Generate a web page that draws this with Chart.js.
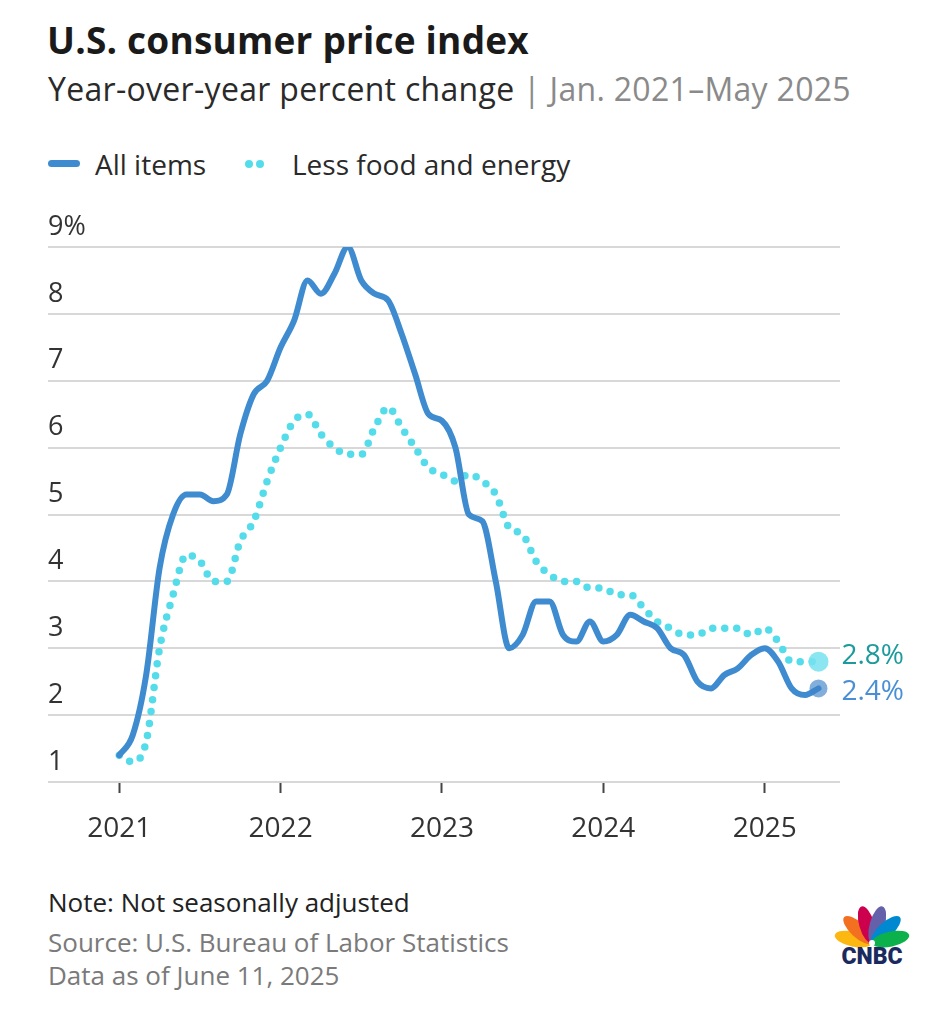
<!DOCTYPE html>
<html>
<head>
<meta charset="utf-8">
<script src="https://cdn.jsdelivr.net/npm/chart.js@4.4.1/dist/chart.umd.min.js"></script>
<style>
  html, body { margin: 0; padding: 0; background: #fff; }
  body { width: 927px; height: 1024px; position: relative; overflow: hidden; font-family: "Open Sans", Lato, sans-serif; }
  .title { position: absolute; left: 47px; top: 17px; font-size: 37px; line-height: 46px; font-weight: 700; color: #1a1a1a; letter-spacing: 0.2px; white-space: nowrap; }
  .subtitle { position: absolute; left: 48px; top: 69px; font-size: 32px; line-height: 40px; color: #2a2a2a; letter-spacing: 0.3px; white-space: nowrap; }
  .subtitle .light { color: #8a8a8a; }
  .leg { position: absolute; top: 146px; font-size: 28px; line-height: 36px; color: #2a2a2a; white-space: nowrap; }
  .swatch-line { position: absolute; left: 48px; top: 160px; width: 32px; height: 7px; border-radius: 4px; background: #3f8bd0; }
  .swatch-dot { position: absolute; top: 160px; width: 8px; height: 8px; border-radius: 50%; background: #55dcea; }
  #wrap { position: absolute; left: 0; top: 200px; width: 927px; height: 660px; }
  .foot { position: absolute; left: 48px; font-size: 26px; line-height: 32px; white-space: nowrap; }
  .note { top: 886px; color: #222; }
  .src { top: 926px; color: #7a7a7a; }
  .asof { top: 959px; color: #7a7a7a; }
  .logo { position: absolute; left: 831px; top: 896px; width: 82px; height: 72px; }
</style>
</head>
<body>
<div class="title">U.S. consumer price index</div>
<div class="subtitle">Year-over-year percent change <span class="light">| Jan. 2021–May 2025</span></div>
<div class="swatch-line"></div>
<div class="leg" style="left:95px">All items</div>
<div class="swatch-dot" style="left:245px"></div>
<div class="swatch-dot" style="left:256px"></div>
<div class="leg" style="left:292px">Less food and energy</div>
<div id="wrap"><canvas id="cpiChart"></canvas></div>
<div class="foot note">Note: Not seasonally adjusted</div>
<div class="foot src">Source: U.S. Bureau of Labor Statistics</div>
<div class="foot asof">Data as of June 11, 2025</div>
<svg class="logo" viewBox="0 0 82 72">
  <g transform="translate(41,47)">
    <ellipse cx="0" cy="-19" rx="7.5" ry="19" fill="#fcb711" transform="rotate(-78)"/>
    <ellipse cx="0" cy="-19" rx="7.5" ry="19" fill="#f37021" transform="rotate(-47)"/>
    <ellipse cx="0" cy="-19" rx="7.5" ry="19" fill="#cc004c" transform="rotate(-16)"/>
    <ellipse cx="0" cy="-19" rx="7.5" ry="19" fill="#6460aa" transform="rotate(16)"/>
    <ellipse cx="0" cy="-19" rx="7.5" ry="19" fill="#0089d0" transform="rotate(47)"/>
    <ellipse cx="0" cy="-19" rx="7.5" ry="19" fill="#0db14b" transform="rotate(78)"/>
    <circle cx="0" cy="0" r="3" fill="#fff"/>
  </g>
  <text x="41" y="68" text-anchor="middle" font-family="Roboto, Arial, sans-serif" font-weight="900" font-size="23" fill="#1b2a5e">CNBC</text>
</svg>

<script>
// Month index 0 = Jan. 2021
const yearTicks = [0, 12, 24, 36, 48];
const yearLabels = ['2021', '2022', '2023', '2024', '2025'];
const yTicks = [1, 2, 3, 4, 5, 6, 7, 8, 9];

const allItems = [
  1.4, 1.7, 2.6, 4.2, 5.0, 5.3, 5.3, 5.2, 5.3, 6.2, 6.8, 7.0,
  7.5, 7.9, 8.5, 8.3, 8.6, 9.0, 8.5, 8.3, 8.2, 7.7, 7.1, 6.5,
  6.4, 6.0, 5.0, 4.9, 4.0, 3.0, 3.2, 3.7, 3.7, 3.2, 3.1, 3.4,
  3.1, 3.2, 3.5, 3.4, 3.3, 3.0, 2.9, 2.5, 2.4, 2.6, 2.7, 2.9,
  3.0, 2.8, 2.4, 2.3, 2.4
];
const coreItems = [
  1.4, 1.3, 1.6, 3.0, 3.8, 4.4, 4.3, 4.0, 4.0, 4.6, 4.9, 5.5,
  6.0, 6.4, 6.5, 6.2, 6.0, 5.9, 5.9, 6.3, 6.6, 6.3, 6.0, 5.7,
  5.6, 5.5, 5.6, 5.5, 5.3, 4.8, 4.7, 4.3, 4.1, 4.0, 4.0, 3.9,
  3.9, 3.8, 3.8, 3.6, 3.4, 3.3, 3.2, 3.2, 3.3, 3.3, 3.3, 3.2,
  3.3, 3.1, 2.8, 2.8, 2.8
];

const blue = '#3f8bd0';
const cyan = '#55dcea';

function toPoints(values) {
  return values.map((v, i) => ({ x: i, y: v }));
}

function lastOnly(big) {
  return ctx => (ctx.dataIndex === ctx.dataset.data.length - 1 ? big : 0);
}

// Labels next to the last points
const endLabels = {
  id: 'endLabels',
  afterDatasetsDraw(chart) {
    const c = chart.ctx;
    const specs = [
      { ds: 1, text: '2.8%', color: '#1d9a9c', dy: -6 },
      { ds: 0, text: '2.4%', color: '#4a8fd6', dy: 4 }
    ];
    c.save();
    c.font = '28px "Open Sans", sans-serif';
    c.textBaseline = 'middle';
    c.textAlign = 'left';
    specs.forEach(s => {
      const pts = chart.getDatasetMeta(s.ds).data;
      const p = pts[pts.length - 1];
      c.fillStyle = s.color;
      c.fillText(s.text, p.x + 23, p.y + s.dy);
    });
    c.restore();
  }
};

const ctx = document.getElementById('cpiChart').getContext('2d');
window.cpiChart = new Chart(ctx, {
  type: 'line',
  data: {
    datasets: [{
      label: 'All items',
      data: toPoints(allItems),
      borderColor: blue,
      borderWidth: 6,
      borderCapStyle: 'round',
      borderJoinStyle: 'round',
      cubicInterpolationMode: 'monotone',
      pointRadius: lastOnly(9),
      pointHoverRadius: lastOnly(9),
      pointBorderWidth: 0,
      pointBackgroundColor: 'rgba(63, 130, 200, 0.65)',
      fill: false
    }, {
      label: 'Less food and energy',
      data: toPoints(coreItems),
      borderColor: cyan,
      borderWidth: 7.5,
      borderDash: [0, 12],
      borderCapStyle: 'round',
      cubicInterpolationMode: 'monotone',
      pointRadius: lastOnly(10),
      pointHoverRadius: lastOnly(10),
      pointBorderWidth: 0,
      pointBackgroundColor: 'rgba(120, 226, 240, 0.85)',
      fill: false
    }]
  },
  options: {
    responsive: true,
    maintainAspectRatio: false,
    animation: false,
    events: [],
    layout: { padding: { left: 48, right: 87, top: 47, bottom: 0 } },
    plugins: { legend: { display: false }, tooltip: { enabled: false } },
    elements: { line: { clip: false } },
    scales: {
      x: {
        type: 'linear',
        min: -5.3,
        max: 53.6,
        afterBuildTicks: scale => { scale.ticks = yearTicks.map(v => ({ value: v })); },
        afterFit: scale => { scale.height = 78; },
        border: { display: false },
        grid: { drawOnChartArea: false, drawTicks: true, tickLength: 11, tickWidth: 2, tickColor: '#444' },
        ticks: {
          padding: 19,
          color: '#333',
          font: { family: 'Open Sans', size: 28 },
          maxRotation: 0,
          callback: v => yearLabels[yearTicks.indexOf(v)]
        }
      },
      y: {
        min: 1,
        max: 9,
        afterBuildTicks: scale => { scale.ticks = yTicks.map(v => ({ value: v })); },
        afterFit: scale => { scale.width = 0; },
        border: { display: false },
        grid: { color: '#d8d8d8', lineWidth: 2, drawTicks: false },
        ticks: {
          mirror: true,
          padding: 0,
          labelOffset: -20,
          color: '#333',
          font: { family: 'Open Sans', size: 27 },
          callback: v => (v === 9 ? v + '%' : String(v))
        }
      }
    }
  },
  plugins: [endLabels]
});
</script>
</body>
</html>
